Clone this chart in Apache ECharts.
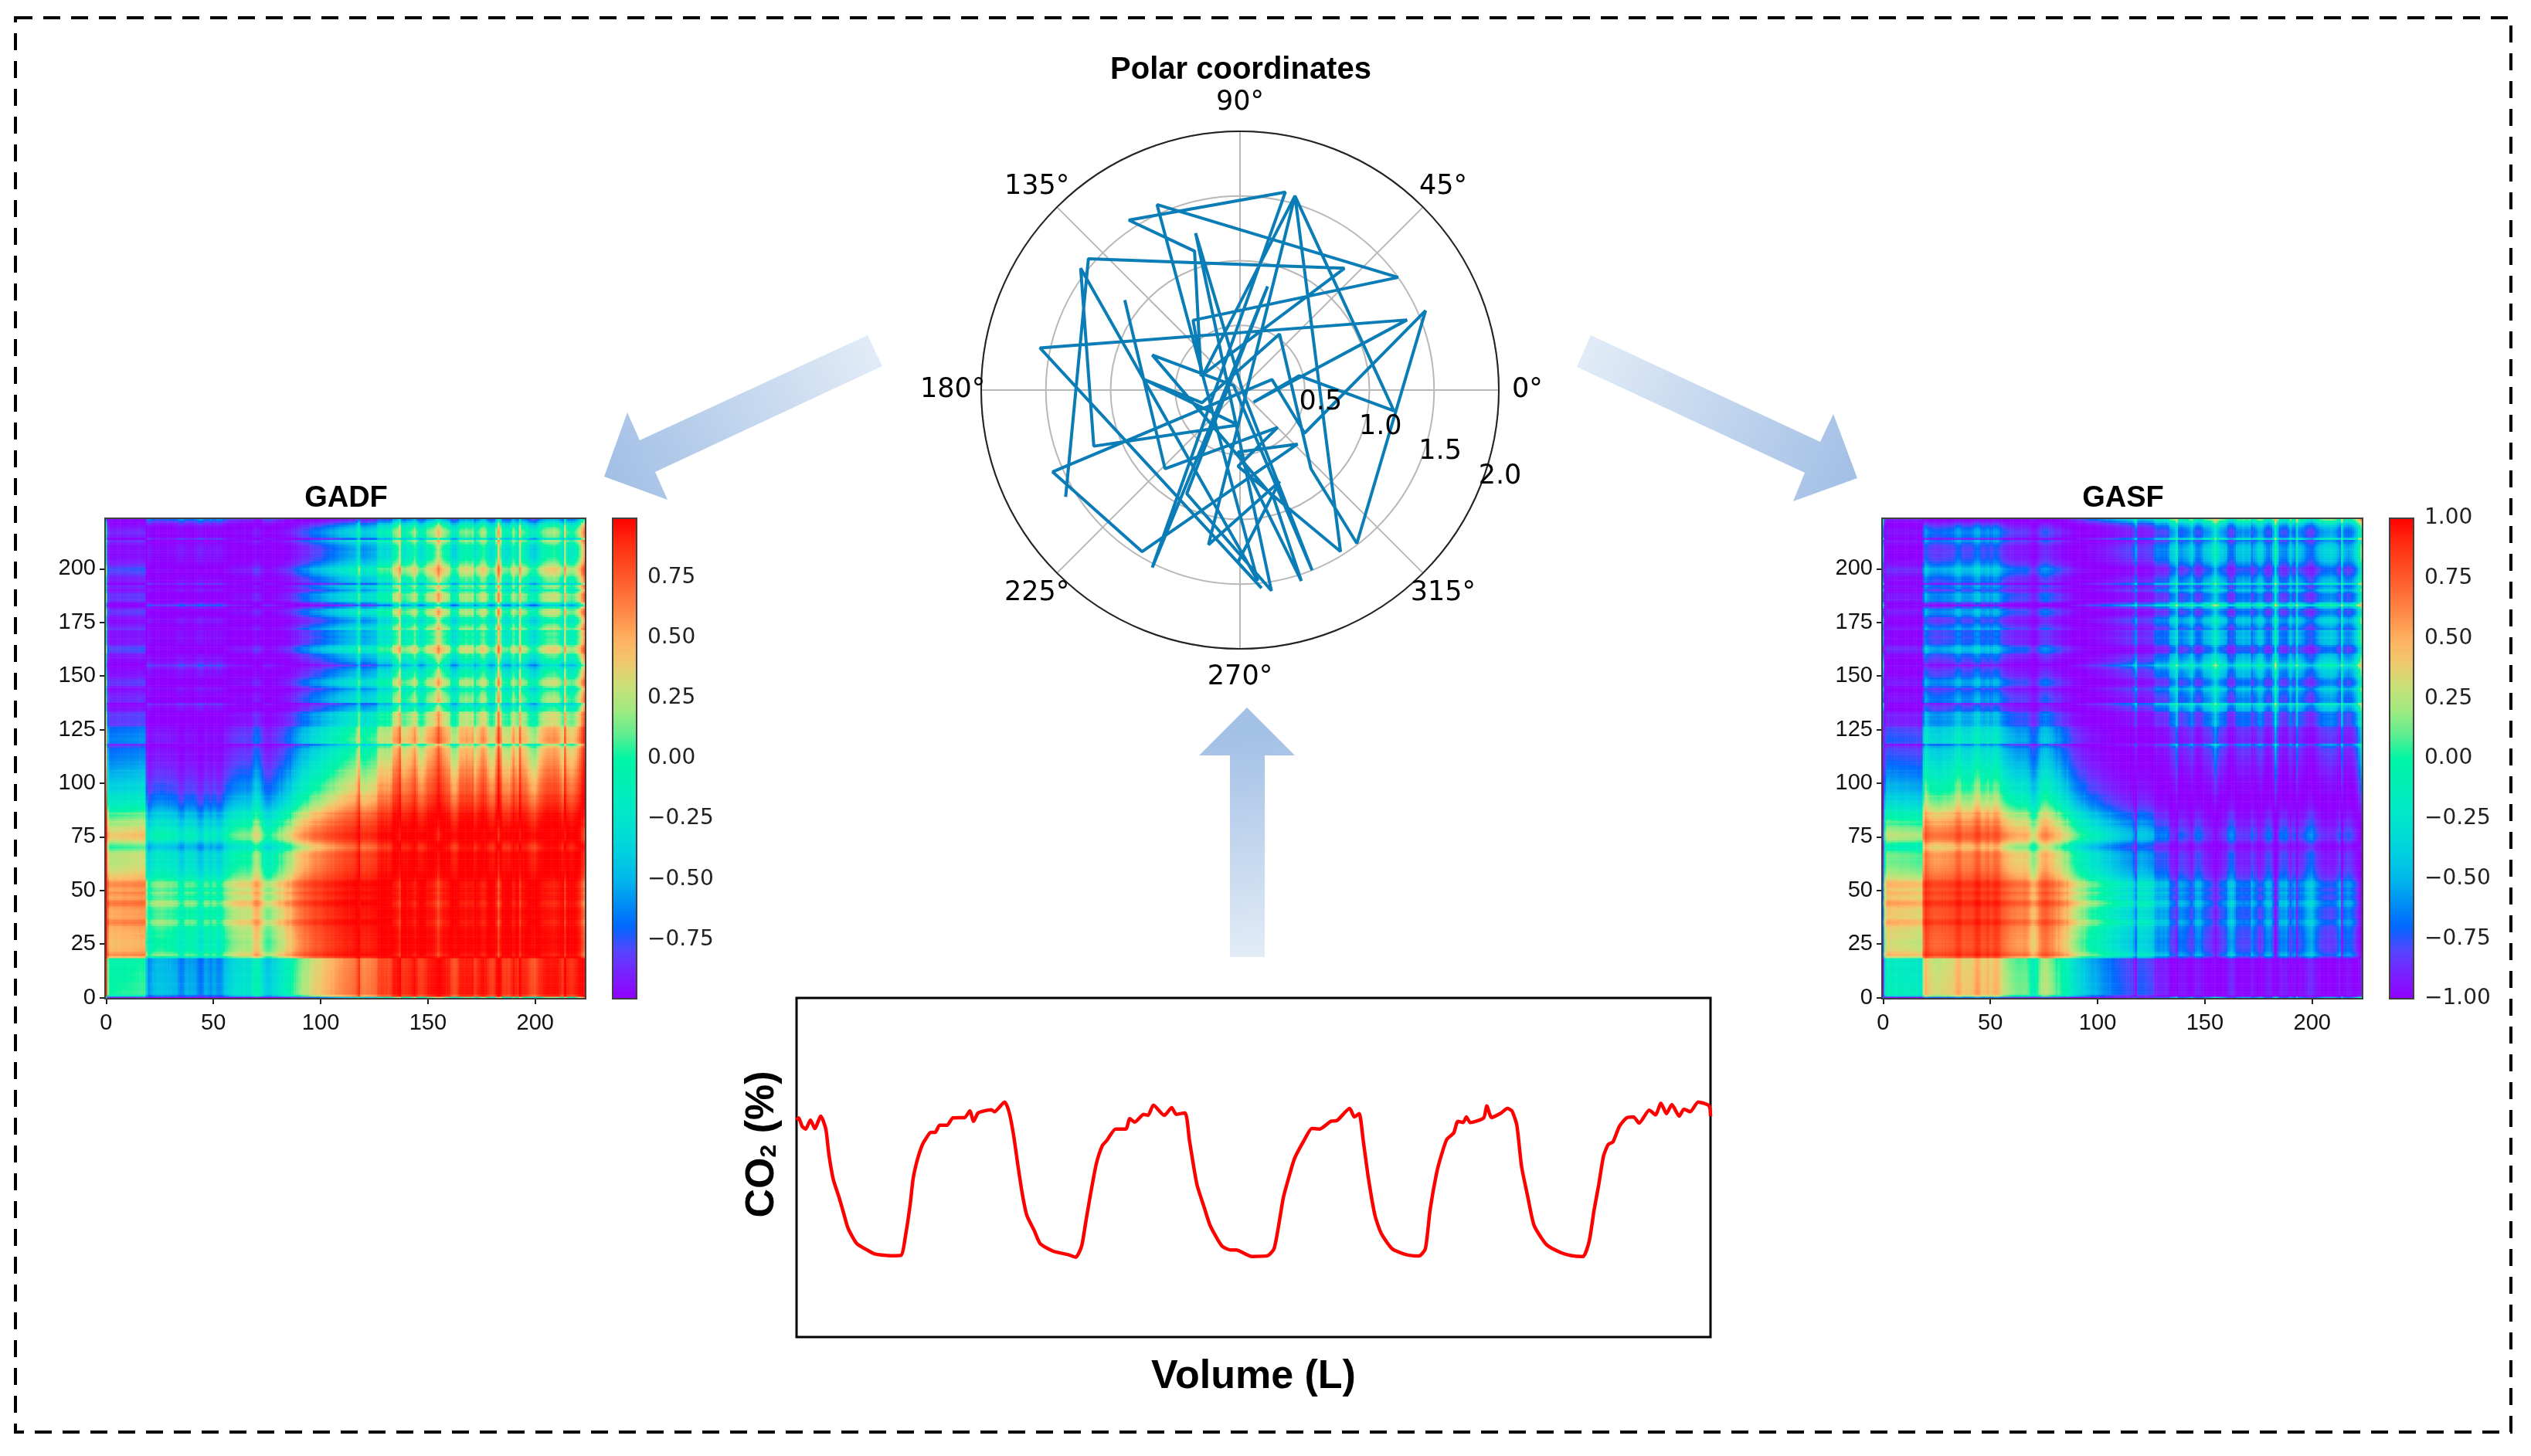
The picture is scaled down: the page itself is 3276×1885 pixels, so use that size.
<!DOCTYPE html>
<html><head><meta charset="utf-8">
<style>html,body{margin:0;padding:0;background:#fff}#c{width:3276px;height:1885px}</style>
<script src="https://cdn.jsdelivr.net/npm/echarts@6/dist/echarts.min.js"></script>
</head><body><div id="c"></div>
<script>
// Angular profile (degrees) read from row/column bands of the GADF and GASF images
const phiProfile = [
 65,122,132,132,131,131,131,131,130,130,
 130,130,130,129,129,129,128,128,128,156,
 168,164,160,159,158,158,157,158,159,160,
 159,160,161,162,167,170,169,163,162,163,
 162,163,165,170,173,171,164,163,165,168,
 163,164,168,168,166,160,156,154,152,150,
 149,148,147,146,146,146,147,146,143,137,
 133,135,140,147,152,154,155,153,150,149,
 146,142,144,140,137,134,136,130,127,125,
 122,120,118,116,117,113,111,109,108,109,
 107,105,104,102,101,99,100,97,96,94,
 94,92,91,90,89,88,87,80,68,90,
 92,92,90,90,88,88,86,76,74,74,
 76,74,76,72,60,58,54,44,68,70,
 68,66,64,60,54,64,72,74,72,66,
 60,59,57,54,48,38,48,54,57,60,
 62,74,78,78,72,62,60,61,58,60,
 61,58,72,66,62,56,54,58,66,72,
 74,70,56,34,52,70,72,72,74,66,
 56,64,68,44,62,64,66,72,76,78,
 80,74,68,64,60,58,56,56,56,54,
 56,58,64,70,44,64,66,68,66,62,
 56,48,36,26
];
const heatXTicks = [0,50,100,150,200];
const heatYTicks = [0,25,50,75,100,125,150,175,200];
const gadfBarTicks = [-0.75,-0.5,-0.25,0,0.25,0.5,0.75];
const gasfBarTicks = [-1,-0.75,-0.5,-0.25,0,0.25,0.5,0.75,1];
const rainbowStops = ['#9000ff','#7a20ff','#5545ff','#0068ff','#0090f4','#00b8ea','#00cfe0','#00dfd2','#00eac4','#00f0b4','#00f5a4','#60ee90','#a0ea80','#c8e078','#f0c86c','#ffb060','#ff8c48','#ff6a35','#ff4a22','#ff2a10','#ff0000'];

// Polar trace: [radius, angle in degrees], read vertex by vertex
const polarRadius = [1.58,1.55,1.24,.32,1.13,1.57,1.57,1.53,.83,.90,1.57,1.26,.04,1.50,.06,.73,.87,1.55,.48,.61,1.46,1.58,.26,.60,1.56,1.49,.82,.53,.31,.74,.27,1.21,1.55,1.48,1.57,1.50,.65,.31,1.56,1.20,.47,.14,1.40,1.58,1.54,1.33,.77,1.22,1.56,1.47,.59,.41,.84,1.13];
const polarAngle  = [211.5,139.1,49.4,160.1,108.1,123.2,77.1,243.7,75.1,242.8,278.9,105.8,313,291.8,145,158.2,287.3,287.8,268.1,316.8,238.8,203.6,18.2,326.3,23.2,307.3,312,54.8,198.4,173.8,266.7,201,142.6,275.3,114.1,35.5,123.9,158.9,74.2,352.3,13.7,318,22.8,168.1,276.2,269.3,293.4,258.5,74.2,301.9,268.5,315.2,226.4,142];
const polarRadiusTicks = [0.5,1,1.5,2];
const polarRadiusLabels = ['0.5','1.0','1.5','2.0'];
const polarAngleTicks = [0,45,90,135,180,225,270,315];
const polarAngleLabels = ['0\u00b0','45\u00b0','90\u00b0','135\u00b0','180\u00b0','225\u00b0','270\u00b0','315\u00b0'];

// CO2 trace (no scale in the source; units are relative plot units)
const co2Volume = [0,2.7,7.3,11.9,18,23.7,31.4,37.9,41.7,47.5,55,60.8,66.6,78,91.5,101,112.5,122,135.5,141,147,150.8,155.4,162.3,168,173.7,179.5,185.2,194.8,202.4,217.8,224.3,229.2,235,252.2,256,269.4,275.2,281,286.7,292.4,298,307.7,315.3,332.6,351.7,361.3,369,374.7,380.4,388,395.7,401.5,413,426.3,431.3,437.8,449.3,455,461.9,476,485.6,491.4,502.9,508.6,518.2,527.7,535.4,550.7,562.2,569,589.4,609.8,618,624,630.2,638.4,644.5,656.8,667,677.2,691.4,699.6,716,722,728.2,733.5,740.4,748.6,756.8,771,789.4,805.7,813.9,820,828.2,834.3,841.7,850.6,856,862.9,867,871.9,889.4,893.5,899.6,911.9,920,926,932.3,938.4,946.6,954.7,971,989.4,1003.7,1018,1026,1032.3,1038.4,1044.5,1050.6,1056.8,1065,1074.3,1083.3,1090.6,1103.7,1111.9,1118.8,1126,1133,1142.5,1148.6,1156.8,1167,1181.2,1183];
const co2Percent = [281,283.7,272.7,269.3,281,270,286,269.3,237.7,204.3,181,161,141,121,112.7,107.7,106,105.3,106,131,171,204.3,226,247.7,257.7,265,265,274.3,274.3,283.7,284.3,292.7,279.3,290,294.3,291.7,304.3,291,261,221,184.3,157.7,137.7,121,111,106.7,103.3,117.7,151,184.3,224.3,247.7,254.3,269.3,269.3,282.7,278.3,288.3,287,300.3,287,297,288.3,290.3,254.3,197.7,167.7,144.3,117.7,112.7,112.7,104.3,105.3,114.3,144.3,181,211,231,254.3,270,269.3,279.3,280.3,296,285,289.3,254.3,204.3,157.7,134.3,114.3,106.7,105,114.3,164.3,211,234.3,256,264.3,279.3,277.7,285,277.7,283.7,299.3,284.3,290,296,292.7,274.3,221,181,144.3,119.3,109.3,105.3,104.3,124.3,164.3,197.7,234.3,249.3,252.7,272.7,283.7,285,277,293.7,287.7,302.7,289.3,301,286,295,291.7,304.3,299.3,286];

const rad = d => d*Math.PI/180;
const cats = phiProfile.map((_,i)=>i);
const gadf = [], gasf = [];
phiProfile.forEach((py,y)=>phiProfile.forEach((px,x)=>{
  gadf.push([x,y,+Math.sin(rad(py-px)).toFixed(3)]);
  gasf.push([x,y,+Math.cos(rad(py+px)).toFixed(3)]);
}));

const edge = '#404040';
const tickFont = {fontFamily:'Liberation Sans',fontSize:29,color:'#111'};
const barFont = {fontFamily:'DejaVu Sans',fontSize:28,color:'#222'};
const titleFont = s => ({fontFamily:'Liberation Sans',fontWeight:'bold',fontSize:s,color:'#000'});

function heatGrid(left){ return {left,top:671,width:622,height:622,show:true,borderColor:edge,borderWidth:2,backgroundColor:'transparent',z:5}; }
function heatAxis(i,ticks,margin){
  const inTicks = idx => ticks.includes(idx);
  return {type:'category',gridIndex:i,data:cats,boundaryGap:true,
    axisLine:{show:false},splitLine:{show:false},
    axisTick:{show:true,alignWithLabel:true,interval:inTicks,length:7,lineStyle:{color:'#222',width:2}},
    axisLabel:Object.assign({interval:inTicks,margin,hideOverlap:false},tickFont)};
}
function barAxes(left,i,ticks,lim){
  return {
    grid:{left,top:671,width:31,height:622,show:true,borderColor:edge,borderWidth:2,backgroundColor:'transparent',z:10},
    x:{type:'value',gridIndex:i,show:false,min:0,max:1},
    y:{type:'value',gridIndex:i,position:'right',min:-lim,max:lim,splitLine:{show:false},axisLine:{show:false},
      axisTick:{show:true,length:7,customValues:ticks,lineStyle:{color:'#222',width:2}},
      axisLabel:Object.assign({customValues:ticks,margin:14,padding:[4,0,0,0],formatter:v=>(+v).toFixed(2).replace('-','\u2212')},barFont)}
  };
}
const bar1 = barAxes(793,2,gadfBarTicks,0.995);
const bar2 = barAxes(3093,3,gasfBarTicks,1);

function arrow(points,x1,y1,x2,y2){
  return {type:'polygon',shape:{points},silent:true,z:1,style:{fill:{type:'linear',x:x1,y:y1,x2:x2,y2:y2,global:true,
    colorStops:[{offset:0,color:'#e2ecf7'},{offset:1,color:'#a3c0e5'}]}}};
}

const option = {
  animation:false,backgroundColor:'#fff',
  title:[
    {text:'Polar coordinates',left:1601,top:66,textAlign:'center',textStyle:titleFont(40)},
    {text:'GADF',left:443,top:622,textAlign:'center',textStyle:titleFont(38)},
    {text:'GASF',left:2743,top:622,textAlign:'center',textStyle:titleFont(38)}
  ],
  grid:[heatGrid(136),heatGrid(2436),bar1.grid,bar2.grid,
    {left:1031,top:1292,width:1183,height:439,show:true,borderColor:'#000',borderWidth:3,backgroundColor:'transparent'}],
  xAxis:[heatAxis(0,heatXTicks,17),heatAxis(1,heatXTicks,17),bar1.x,bar2.x,
    {type:'value',gridIndex:4,min:0,max:1183,axisLine:{show:false},axisTick:{show:false},axisLabel:{show:false},splitLine:{show:false},
     name:'Volume (L)',nameLocation:'middle',nameGap:26,nameTextStyle:titleFont(52)}],
  yAxis:[heatAxis(0,heatYTicks,12),heatAxis(1,heatYTicks,12),bar1.y,bar2.y,
    {type:'value',gridIndex:4,min:0,max:439,axisLine:{show:false},axisTick:{show:false},axisLabel:{show:false},splitLine:{show:false},
     name:'{a|CO}{s|2}{a| (%)}',nameLocation:'middle',nameGap:18,nameRotate:90,
     nameTextStyle:{padding:[0,0,0,60],rich:{a:{fontFamily:'Liberation Sans',fontWeight:'bold',fontSize:52,color:'#000'},s:{fontFamily:'Liberation Sans',fontWeight:'bold',fontSize:30,color:'#000',padding:[18,0,0,0]}}}}],
  polar:{center:[1605,505],radius:335},
  angleAxis:{type:'value',min:0,max:360,interval:45,startAngle:0,clockwise:false,
    axisLine:{lineStyle:{color:'#222',width:2}},axisTick:{show:false},
    splitLine:{show:true,lineStyle:{color:'#b8b8b8',width:2}},axisLabel:{show:false}},
  radiusAxis:{type:'value',min:0,max:2,interval:0.5,axisLine:{show:false},axisTick:{show:false},axisLabel:{show:false},
    splitLine:{show:true,lineStyle:{color:'#b8b8b8',width:2}}},
  visualMap:[
    {type:'continuous',seriesIndex:0,min:-1,max:1,show:true,calculable:false,left:793,top:671,itemWidth:31,itemHeight:622,padding:0,text:['',''],showLabel:false,inRange:{color:rainbowStops},hoverLink:false},
    {type:'continuous',seriesIndex:1,min:-1,max:1,show:true,calculable:false,left:3093,top:671,itemWidth:31,itemHeight:622,padding:0,text:['',''],showLabel:false,inRange:{color:rainbowStops},hoverLink:false}
  ],
  series:[
    {type:'heatmap',name:'GADF',xAxisIndex:0,yAxisIndex:0,data:gadf,progressive:0,animation:false,silent:true,emphasis:{disabled:true}},
    {type:'heatmap',name:'GASF',xAxisIndex:1,yAxisIndex:1,data:gasf,progressive:0,animation:false,silent:true,emphasis:{disabled:true}},
    {type:'line',name:'Polar',coordinateSystem:'polar',data:polarRadius.map((r,i)=>[r,polarAngle[i]]),showSymbol:false,symbol:'none',smooth:false,lineStyle:{color:'#0a7cb6',width:4},z:3},
    {type:'scatter',name:'Radius labels',coordinateSystem:'polar',data:polarRadiusTicks.map(r=>[r,337.5]),symbolSize:0,silent:true,z:6,clip:false,
      label:{show:true,position:'inside',offset:[27,-16],formatter:p=>polarRadiusLabels[p.dataIndex],fontFamily:'DejaVu Sans',fontSize:35,color:'#000',opacity:1}},
    {type:'scatter',name:'Angle labels',coordinateSystem:'polar',data:polarAngleTicks.map(a=>[2.22,a]),symbolSize:0,silent:true,z:6,clip:false,
      label:{show:true,position:'inside',formatter:p=>polarAngleLabels[p.dataIndex],fontFamily:'DejaVu Sans',fontSize:35,color:'#000',opacity:1}},
    {type:'line',name:'CO2',xAxisIndex:4,yAxisIndex:4,data:co2Volume.map((v,i)=>[v,co2Percent[i]]),showSymbol:false,symbol:'none',smooth:0.2,lineStyle:{color:'#ff0000',width:4.5},z:3}
  ],
  graphic:[
    {type:'rect',silent:true,z:0,shape:{x:20,y:23,width:3230,height:1831},style:{fill:'none',stroke:'#000',lineWidth:4,lineDash:[22,14]}},
    arrow([[1123,434],[1142,474],[848,611],[864,647],[782,617],[812,534],[828,570]],1135,450,790,610),
    arrow([[2059,434],[2041,475],[2336,612],[2321,649],[2404,619],[2373,536],[2356,572]],2048,452,2395,612),
    arrow([[1592,1239],[1592,978],[1552,978],[1614,916],[1676,978],[1637,978],[1637,1239]],1625,1239,1605,950)
  ]
};
const chart = echarts.init(document.getElementById('c'),null,{renderer:'canvas'});
chart.setOption(option);
</script></body></html>
